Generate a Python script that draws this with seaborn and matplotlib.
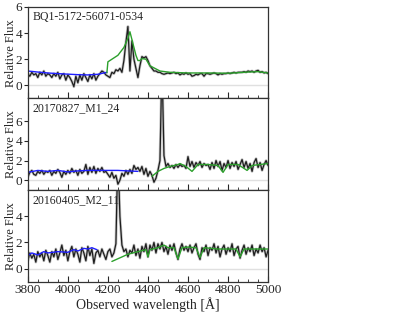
import matplotlib
matplotlib.use("Agg")

import matplotlib.pyplot as plt
from matplotlib.ticker import MultipleLocator
import seaborn as sns
import numpy as np

# ---- data ----
wave = np.arange(3800, 5001, 10)

# panel 1: BQ1-5172-56071-0534
flux_1 = [0.9, 0.7, 1.0, 0.8, 0.9, 0.6, 1.0, 0.8, 1.1, 0.7,
          0.9, 0.8, 0.6, 0.9, 0.7, 1.0, 0.5, 0.8, 0.9, 0.4,
          0.8, 0.6, 0.3, -0.1, 0.7, 0.2, 0.8, 0.4, 0.9, 0.6,
          0.3, 0.8, 0.5, 0.9, 0.4, 0.7, 0.9, 1.1, 1.0, 0.8,
          0.7, 0.6, 1.0, 0.9, 1.2, 1.1, 1.3, 1.0, 1.9, 3.3,
          4.5, 1.1, 3.4, 2.0, 1.3, 0.6, 1.5, 2.2, 2.1, 2.2,
          1.9, 1.5, 1.3, 1.1, 1.1, 1.0, 1.0, 0.9, 0.85, 0.9,
          0.95, 0.9, 0.95, 1.0, 0.9, 0.95, 0.8, 0.9, 0.85, 0.95,
          0.85, 0.9, 0.7, 0.75, 0.85, 0.8, 0.9, 0.9, 0.7, 0.9,
          0.9, 0.85, 0.9, 0.95, 0.9, 0.8, 0.9, 0.85, 0.9, 0.9,
          0.95, 0.9, 0.95, 1.0, 0.95, 1.0, 1.0, 1.0, 1.05, 1.0,
          1.1, 1.05, 1.1, 1.0, 1.1, 1.15, 1.0, 1.05, 0.95, 1.0,
          0.9]
blue_wave_1 = [3800, 3850, 3900, 3950, 4000, 4050, 4100, 4150, 4195]
blue_flux_1 = [1.1, 1.02, 0.95, 0.9, 0.86, 0.82, 0.8, 0.85, 1.0]
green_wave_1 = [4195, 4200, 4250, 4280, 4300, 4310, 4320, 4340, 4350,
                4360, 4370, 4390, 4410, 4460, 4510, 4600, 4700, 4800,
                4850, 4900, 4950, 5000]
green_flux_1 = [0.95, 1.8, 2.3, 2.9, 3.6, 4.1, 3.5, 2.3, 1.9,
                1.9, 2.05, 2.0, 1.5, 1.1, 1.0, 0.95, 0.95, 0.93,
                0.97, 1.02, 1.05, 0.95]

# panel 2: 20170827_M1_24
flux_2 = [0.3, 0.8, 1.0, 0.6, 0.5, 0.9, 0.7, 1.0, 0.6, 0.9,
          0.8, 1.0, 0.5, 0.9, 0.7, 1.1, 0.8, 0.3, 0.9, 0.6,
          1.0, 0.7, 1.2, 0.8, 1.0, 0.5, 1.1, 0.7, 0.9, 1.6,
          0.6, 1.3, 0.8, 1.4, 0.7, 1.2, 0.9, 1.3, 0.8, 0.9,
          0.6, 0.3, 0.8, 0.2, 0.5, -0.4, 0.0, 0.7, 0.4, 1.0,
          0.6, 1.1, 0.7, 1.5, 1.1, 1.3, 0.9, 1.4, 0.6, 1.2,
          0.4, 0.9, 0.5, -0.2, 0.2, 1.0, 2.0, 12.0, 2.5, 1.4,
          1.7, 1.3, 1.5, 1.2, 1.6, 1.3, 1.6, 1.4, 1.5, 1.2,
          2.4, 1.4, 1.9, 1.3, 1.8, 1.5, 1.9, 1.3, 1.7, 1.5,
          1.6, 1.1, 1.8, 1.2, 2.0, 1.4, 1.9, 1.0, 1.7, 1.3,
          2.0, 1.2, 1.8, 1.4, 1.9, 1.1, 1.6, 2.1, 1.3, 1.9,
          1.2, 1.7, 0.9, 1.8, 2.2, 1.3, 1.8, 1.0, 1.6, 2.0,
          1.5]
blue_wave_2 = [3800, 3850, 3900, 3950, 4000, 4050, 4100, 4150, 4200,
               4250, 4300, 4350]
blue_flux_2 = [0.8, 1.0, 0.9, 1.0, 0.85, 0.95, 1.0, 1.0, 1.0,
               1.0, 0.95, 0.9]
green_wave_2 = [4420, 4450, 4480, 4510, 4550, 4560, 4590, 4620, 4650,
                4700, 4750, 4775, 4800, 4850, 4895, 4920, 5000]
green_flux_2 = [0.4, 0.9, 1.2, 1.4, 1.6, 1.7, 1.4, 0.9, 1.6,
                1.6, 1.5, 0.8, 1.6, 1.6, 1.0, 1.5, 1.7]

# panel 3: 20160405_M2_11
flux_3 = [0.6, 1.2, 0.8, 1.1, 0.5, 1.3, 0.9, 1.2, 0.6, 1.4,
          1.0, 0.5, 1.3, 0.9, 1.5, 0.7, 1.2, 1.8, 1.0, 1.4,
          0.6, 1.3, 1.7, 0.9, 1.5, 1.1, 0.5, 1.6, 1.2, 0.6,
          1.7, 1.0, 1.5, 0.4, 1.2, 1.4, 0.9, 1.5, 1.1, 0.7,
          1.3, 1.5, 0.9, 1.2, 1.9, 9.0, 4.0, 1.8, 1.3, 1.5,
          0.9, 1.4, 1.2, 1.8, 1.0, 1.5, 0.8, 1.7, 1.3, 1.9,
          0.9, 1.8, 1.4, 2.0, 1.2, 1.9, 1.5, 2.0, 1.3, 1.7,
          1.1, 1.8, 1.4, 1.9, 1.2, 0.7, 1.5, 1.9, 1.4, 1.7,
          1.3, 1.8, 1.2, 1.6, 1.9, 1.1, 0.7, 1.6, 1.3, 1.8,
          1.0, 1.6, 1.4, 1.9, 1.2, 1.7, 0.9, 1.5, 1.8, 1.1,
          1.6, 1.3, 1.9, 1.0, 1.5, 1.7, 0.8, 1.4, 1.8, 1.1,
          1.6, 1.3, 1.8, 1.0, 1.5, 1.2, 1.8, 1.3, 1.6, 0.9,
          1.4]
blue_wave_3 = [3800, 3820, 3850, 3880, 3900, 3950, 4000, 4030, 4050,
               4080, 4100, 4120, 4145]
blue_flux_3 = [1.0, 1.2, 1.05, 1.3, 1.2, 1.3, 1.25, 1.45, 1.35,
               1.55, 1.5, 1.6, 1.45]
green_wave_3 = [4220, 4300, 4350, 4390, 4400, 4410, 4450, 4480, 4500,
                4530, 4550, 4570, 4600, 4640, 4660, 4680, 4750, 4800,
                4840, 4860, 4880, 5000]
green_flux_3 = [0.55, 1.1, 1.3, 1.45, 0.9, 1.45, 1.6, 1.8, 1.6,
                1.6, 0.75, 1.6, 1.65, 1.6, 0.85, 1.6, 1.5, 1.5,
                1.5, 0.9, 1.5, 1.5]

labels = ["BQ1-5172-56071-0534", "20170827_M1_24", "20160405_M2_11"]
ylims = [(-1, 6), (-1, 8.3), (-1, 6)]
yticks = [[0, 2, 4, 6], [0, 2, 4, 6], [0, 2, 4]]

panels = [
    (flux_1, blue_wave_1, blue_flux_1, green_wave_1, green_flux_1),
    (flux_2, blue_wave_2, blue_flux_2, green_wave_2, green_flux_2),
    (flux_3, blue_wave_3, blue_flux_3, green_wave_3, green_flux_3),
]

sns.set_style("ticks")
plt.rcParams["font.family"] = ["Liberation Serif", "DejaVu Serif"]

fig, axes = plt.subplots(3, 1, figsize=(4.15, 3.12), dpi=100, sharex=True)
fig.subplots_adjust(left=0.067, right=0.646, bottom=0.097, top=0.978, hspace=0)

for i, ax in enumerate(axes):
    flux, bw, bf, gw, gf = panels[i]

    ax.axhline(0, color="#e0e0e0", lw=1, zorder=0)

    # grey halo under the spectrum
    sns.lineplot(x=wave, y=flux, ax=ax, color="#c4c4c4", lw=2.0, sort=False,
                 estimator=None)
    sns.lineplot(x=wave, y=flux, ax=ax, color="#1e1e1e", lw=0.9, sort=False,
                 estimator=None)
    sns.lineplot(x=bw, y=bf, ax=ax, color="#1f1fff", lw=1.0, sort=False,
                 estimator=None)
    sns.lineplot(x=gw, y=gf, ax=ax, color="#2ca02c", lw=1.0, sort=False,
                 estimator=None)

    ax.set_xlim(3800, 5000)
    ax.set_ylim(*ylims[i])
    ax.set_yticks(yticks[i])
    ax.set_ylabel("Relative Flux", fontsize=9)
    ax.yaxis.set_label_coords(-0.045, 0.5)

    ax.xaxis.set_major_locator(MultipleLocator(200))
    ax.xaxis.set_minor_locator(MultipleLocator(50))
    ax.tick_params(axis="x", which="major", direction="in", length=4,
                   width=0.8, labelsize=9.5, pad=1.5)
    ax.tick_params(axis="x", which="minor", direction="in", length=2,
                   width=0.6)
    ax.tick_params(axis="y", which="major", direction="out", length=3,
                   width=0.8, labelsize=9.5, pad=1)

    for sp in ax.spines.values():
        sp.set_linewidth(0.9)
        sp.set_color("#333333")

    ax.text(0.02, 0.96, labels[i], transform=ax.transAxes, fontsize=8.5,
            va="top", ha="left")

axes[-1].set_xlabel("Observed wavelength [Å]", fontsize=10, labelpad=1)

plt.savefig("out.png", dpi=100)
plt.close()
